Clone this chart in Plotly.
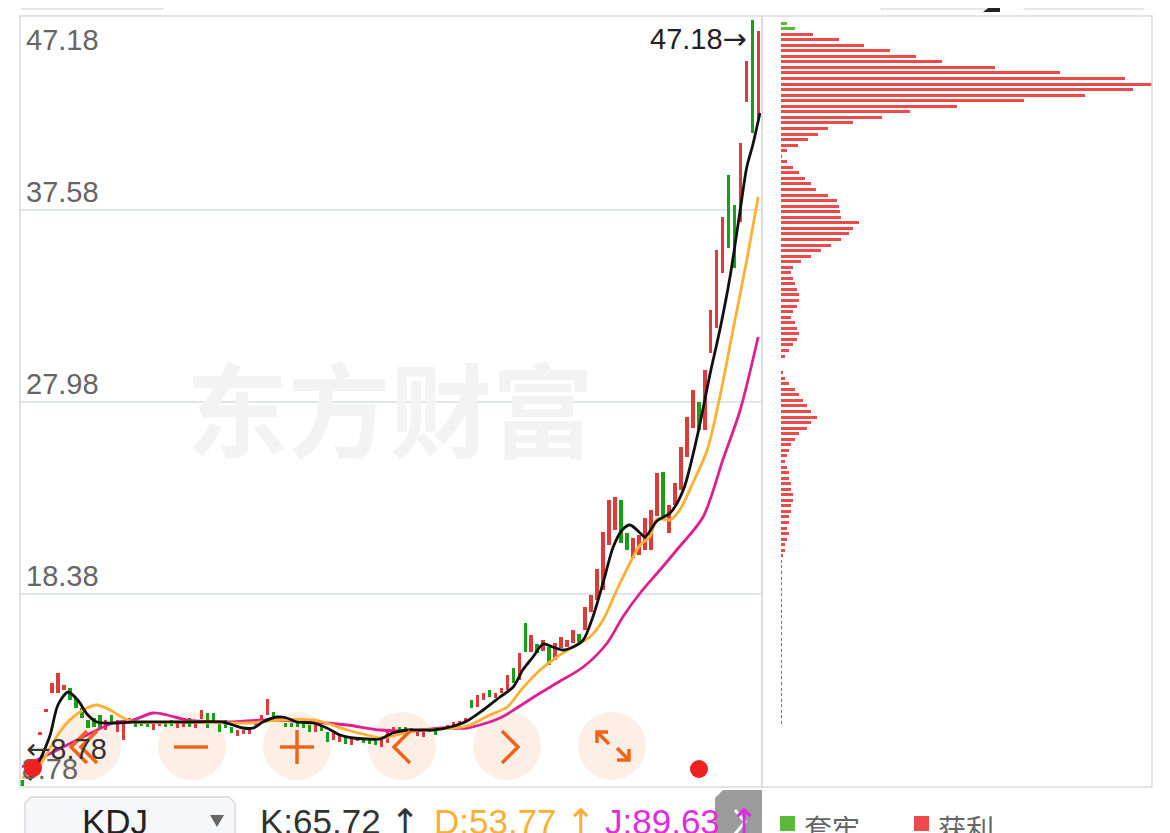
import plotly.graph_objects as go

# page has an 8px body margin, so the figure is drawn 8px smaller and offset
OFF = 8
W, H = 1170 - OFF, 833 - OFF

# ---------------- data ----------------
opens = [9.08, 9.13, 9.68, 11.33, 12.48, 13.43, 13.43, 13.58, 13.68, 13.18,
         12.68, 12.08, 12.18, 12.33, 11.58, 12.33, 11.48, 11.08, 11.98, 11.98,
         11.93, 11.98, 11.58, 11.78, 11.98, 12.08, 11.68, 11.73, 12.18, 11.68,
         12.13, 12.43, 12.43, 11.93, 12.08, 11.73, 11.28, 11.38, 11.38, 11.83,
         11.93, 12.33, 12.48, 12.08, 11.93, 11.93, 12.08, 11.93, 11.83, 11.48,
         11.78, 11.48, 11.08, 10.98, 11.23, 10.83, 11.03, 11.18, 11.13, 11.08,
         10.73, 10.93, 11.43, 11.73, 11.73, 11.43, 11.28, 11.23, 11.68, 11.58,
         11.58, 11.63, 11.83, 11.88, 11.98, 13.08, 12.73, 13.08, 13.58, 13.18,
         13.43, 13.58, 14.68, 14.08, 16.93, 15.48, 15.88, 15.53, 15.73, 15.08,
         15.68, 15.73, 15.93, 16.38, 16.58, 17.48, 18.08, 18.58, 20.83, 21.58,
         23.08, 21.43, 20.18, 20.33, 20.58, 20.58, 22.28, 24.48, 21.43, 22.83,
         23.58, 25.23, 26.68, 27.98, 26.58, 30.43, 31.68, 34.43, 39.33, 37.83,
         36.98, 42.98, 47.08, 42.08]
closes = [8.78, 9.33, 10.08, 11.48, 12.63, 13.93, 14.43, 13.83, 13.08, 12.68,
          12.18, 11.68, 11.73, 11.68, 12.08, 11.93, 12.08, 11.98, 12.18, 11.73,
          11.78, 11.73, 11.98, 11.98, 11.73, 11.78, 11.98, 11.98, 11.73, 11.98,
          12.58, 11.68, 12.03, 11.48, 11.68, 11.43, 11.58, 11.58, 11.73, 12.08,
          12.33, 13.13, 12.13, 12.23, 11.73, 11.73, 11.73, 11.68, 11.48, 11.83,
          11.53, 10.98, 11.43, 11.33, 10.88, 11.18, 11.23, 10.93, 10.88, 10.83,
          11.08, 11.48, 11.73, 11.48, 11.53, 11.68, 11.48, 11.48, 11.48, 11.33,
          11.73, 11.83, 11.98, 12.03, 12.18, 12.68, 13.33, 13.43, 13.23, 13.43,
          13.68, 14.33, 13.93, 15.43, 15.48, 16.33, 15.43, 16.08, 14.83, 15.93,
          16.23, 16.08, 16.58, 15.98, 17.73, 18.33, 19.63, 21.48, 23.08, 23.23,
          20.93, 20.58, 21.18, 21.33, 22.18, 22.58, 24.43, 22.28, 22.83, 23.93,
          25.73, 27.23, 28.58, 26.58, 29.58, 32.58, 35.58, 37.23, 35.68, 34.68,
          40.93, 45.03, 41.43, 46.53]
max_high = 47.18
min_low = 8.78
y_ticks = [47.18, 37.58, 27.98, 18.38, 8.78]

# moving-average lines, points (candle index, price)
ma5_x = [1.3, 3, 4.7, 6, 7.7, 9.3, 11, 12.5, 15.9, 18.5, 27.5, 33.6, 35.2, 36.9, 38.6,
         40.2, 42.6, 44.2, 45.9, 48.6, 50.9, 53.1, 55.3, 57.6, 59.8, 61.9, 64.3, 68.6,
         71.5, 74.3, 77, 79.8, 82, 83.6, 85.3, 87, 88.6, 90.3, 92, 93.7, 95.3, 97, 98.7,
         100.2, 101.5, 103.2, 104, 106, 108.2, 110.4, 112.7, 114.9, 116.5, 118.2, 119.9,
         121, 122, 123.2]
ma5_y = [9.08, 10.08, 11.33, 12.83, 13.48, 13.08, 12.33, 11.98, 11.93, 11.98, 11.98, 11.98,
         11.83, 11.68, 11.68, 11.98, 12.23, 12.18, 11.98, 11.93, 11.68, 11.33, 11.18, 11.13,
         11.13, 11.43, 11.58, 11.58, 11.73, 12.03, 12.58, 13.23, 13.73, 14.58, 15.23, 15.88,
         15.73, 15.58, 15.73, 16.08, 17.23, 18.93, 20.73, 21.58, 21.83, 21.43, 21.23, 22.03,
         22.43, 23.58, 26.23, 29.43, 31.58, 34.23, 37.58, 39.73, 40.83, 42.43]
ma10_x = [0, 1.3, 3, 4.7, 6.3, 8, 10.2, 12.5, 14.7, 16.9, 18.9, 27.5, 37.6, 43.1, 48.6, 50.3,
          54.3, 57.6, 59.8, 61.9, 65.3, 69.8, 74.3, 78.1, 81, 83.6, 86.5, 89.3, 92, 94.8, 97,
          99.3, 101.5, 103.2, 104.8, 106, 108.2, 109.8, 112, 114.4, 116.5, 118.7, 121, 122.9]
ma10_y = [9.18, 9.38, 9.83, 10.68, 11.48, 12.08, 12.58, 12.83, 12.58, 12.18, 11.98, 11.98,
          11.93, 12.08, 12.08, 11.98, 11.58, 11.33, 11.18, 11.28, 11.53, 11.63, 11.78, 12.33,
          12.73, 13.68, 14.58, 15.23, 15.73, 16.23, 17.08, 18.58, 19.93, 20.83, 21.23, 22.13,
          22.08, 22.58, 23.93, 25.58, 28.23, 31.58, 35.08, 38.23]
ma20_x = [0, 4.2, 10.2, 15.2, 18.5, 21.9, 24.2, 27.5, 34.7, 40.2, 48.6, 54.3, 59.8, 65.3,
          69.8, 74.3, 79.8, 82.6, 86.5, 89.3, 93.7, 97.7, 100.3, 103.2, 106.5, 109.3, 113.7,
          117, 119.9, 122.9]
ma20_y = [9.73, 10.33, 11.23, 11.93, 12.08, 12.43, 12.33, 12.08, 11.98, 12.08, 11.98, 11.83,
          11.58, 11.53, 11.68, 11.68, 12.18, 12.68, 13.43, 13.93, 14.73, 15.93, 17.23, 18.43,
          19.58, 20.58, 22.23, 25.08, 27.58, 31.23]

# chip distribution (price level, amount) - top two levels are "套牢"
chip_top = 46.93
chip_step = 0.2775
chip_green = [6, 14]
chip_red = [32, 58, 83, 109, 135, 161, 214, 279, 344, 372, 352, 304, 243, 176, 129, 101,
            72, 47, 37, 27, 17, 6, 1, 6, 12, 18, 24, 30, 35, 47, 56, 58, 59, 60, 78, 72,
            68, 60, 50, 40, 30, 20, 12, 10, 12, 14, 16, 18, 18, 16, 12, 10, 14, 16, 18, 16,
            12, 8, 4, 0, 0, 2, 4, 8, 14, 18, 22, 26, 30, 36, 30, 26, 18, 14, 10, 8, 6, 4,
            6, 8, 8, 10, 10, 12, 12, 10, 10, 8, 8, 6, 8, 6, 4, 4, 2, 1, 1, 1, 1, 1, 1, 1,
            1, 1, 1, 1, 1, 1, 1, 0.6, 0.6, 0.6, 0.6, 0.6, 0.6, 0.6, 0.6, 0.6, 0.6, 0.6,
            0.6, 0.6, 0.6, 0.6, 0.6]

kdj_labels = ["K:65.72", "D:53.77", "J:89.63"]
legend_text = ["套牢", "获利"]

# ---------------- colours ----------------
RED = "#df3a3a"
GREEN = "#17a117"
CHIP_RED = "#ee4a4a"
CHIP_GREEN = "#5cb83c"
ORANGE_BTN = "#f06418"
ARROW = "<span style='font-family:DejaVu Sans'>{}</span>"

# ---------------- figure ----------------
fig = go.Figure()

n = len(opens)
idx = list(range(n))
up = [c >= o for o, c in zip(opens, closes)]
for flag, col in ((True, RED), (False, GREEN)):
    xs = [i for i in idx if up[i] == flag]
    base = [min(opens[i], closes[i]) for i in xs]
    hgt = [max(abs(closes[i] - opens[i]), 0.08) for i in xs]
    fig.add_trace(go.Bar(x=xs, y=hgt, base=base, width=0.55, marker_color=col,
                         marker_line_width=0, xaxis="x", yaxis="y", hoverinfo="skip"))

for xs, ys, col in ((ma20_x, ma20_y, "#e01f8f"), (ma10_x, ma10_y, "#ffb030"),
                    (ma5_x, ma5_y, "#111111")):
    fig.add_trace(go.Scatter(x=xs, y=ys, mode="lines",
                             line=dict(color=col, width=2.8, shape="spline", smoothing=0.8),
                             xaxis="x", yaxis="y", hoverinfo="skip"))

# lowest y tick label drawn as a trace so the red dot (a shape) can sit on top of it
fig.add_trace(go.Scatter(x=[-0.05], y=[y_ticks[-1]], mode="text", text=[f"{y_ticks[-1]:.2f}"],
                         textposition="top right", textfont=dict(size=29, color="#666666"),
                         xaxis="x", yaxis="y", hoverinfo="skip"))

levels_g = [chip_top - chip_step * k for k in range(len(chip_green))]
levels_r = [chip_top - chip_step * (k + len(chip_green)) for k in range(len(chip_red))]
fig.add_trace(go.Bar(y=levels_g, x=chip_green, orientation="h", width=0.15,
                     marker_color=CHIP_GREEN, marker_line_width=0, xaxis="x2", yaxis="y2"))
fig.add_trace(go.Bar(y=levels_r, x=chip_red, orientation="h", width=0.15,
                     marker_color=CHIP_RED, marker_line_width=0, xaxis="x2", yaxis="y2"))


def PX(x):
    return (x - OFF) / W


def PY(y):
    return 1 - (y - OFF) / H


def path(pts, closed=False):
    s = ""
    for k, (x, y) in enumerate(pts):
        s += ("M" if k == 0 else "L") + f"{PX(x):.5f},{PY(y):.5f} "
    return s + ("Z" if closed else "")


# axes pixel geometry (reference pixels)
main_l, main_r, top, bot = 20, 762, 16, 787
chip_r = 1152
x_lo = -0.33
x_hi = 123.54
y_lo, y_hi = 8.73, 47.28

fig.update_layout(
    width=W, height=H, margin=dict(l=0, r=0, t=0, b=0),
    paper_bgcolor="white", plot_bgcolor="rgba(0,0,0,0)",
    showlegend=False, barmode="overlay", bargap=0,
    xaxis=dict(domain=[PX(main_l), PX(main_r)], range=[x_lo, x_hi], visible=False, fixedrange=True),
    yaxis=dict(domain=[PY(bot), PY(top)], range=[y_lo, y_hi], showticklabels=False,
               tickvals=y_ticks[1:4], showgrid=True, gridcolor="#e2e4ec", gridwidth=2,
               zeroline=False, showline=False, ticks=""),
    xaxis2=dict(domain=[PX(main_r), PX(chip_r)], range=[-19, chip_r - 781], visible=False),
    yaxis2=dict(domain=[PY(bot), PY(top)], range=[y_lo, y_hi], visible=False, anchor="x2"),
    font=dict(family="Liberation Sans, Arial, sans-serif"),
)

shapes = []
anns = []

# nav button circles (behind traces)
for cx in (87, 192, 297, 402, 507, 612):
    shapes.append(dict(type="circle", xref="paper", yref="paper", layer="below",
                       x0=PX(cx - 34), x1=PX(cx + 34), y0=PY(746 + 34), y1=PY(746 - 34),
                       fillcolor="#fdeee6", line_width=0))

# watermark
anns.append(dict(text="东方财富", xref="paper", yref="paper", x=PX(390), y=PY(405),
                 xanchor="center", yanchor="middle", showarrow=False,
                 font=dict(family="Noto Sans CJK SC", size=102, color="#f3f3f3", weight="bold")))

# frames
shapes.append(dict(type="rect", xref="paper", yref="paper", x0=PX(main_l), x1=PX(main_r),
                   y0=PY(bot), y1=PY(top), line=dict(color="#d9dae0", width=1.5)))
shapes.append(dict(type="rect", xref="paper", yref="paper", x0=PX(main_r), x1=PX(chip_r),
                   y0=PY(bot), y1=PY(top), line=dict(color="#d9dae0", width=1.5)))

# y tick labels (the lowest one is the text trace above)
for v in y_ticks[:-1]:
    if v == y_ticks[0]:
        anc, sh = "top", -4
    else:
        anc, sh = "bottom", 0
    anns.append(dict(text=f"{v:.2f}", xref="paper", yref="y", x=PX(24), y=v, xanchor="left",
                     yanchor=anc, yshift=sh, showarrow=False, font=dict(size=29, color="#666666")))

# max / min markers
anns.append(dict(text=f"{max_high:.2f}" + ARROW.format("→"), xref="x", yref="y", x=121.3, y=max_high,
                 xanchor="right", yanchor="top", yshift=-2, showarrow=False,
                 font=dict(size=29, color="#222222")))
anns.append(dict(text=ARROW.format("←") + f"{min_low:.2f}", xref="x", yref="y", x=0.3, y=min_low,
                 xanchor="left", yanchor="bottom", yshift=18, showarrow=False,
                 font=dict(size=29, color="#333333")))

# glyphs on the nav buttons
g = dict(color=ORANGE_BTN, width=3.5)
glyphs = [
    [(87, 731), (71, 747), (87, 763)], [(97, 731), (81, 747), (97, 763)],
    [(174, 747), (208, 747)],
    [(280, 747), (314, 747)], [(297, 730), (297, 764)],
    [(410, 731), (394, 747), (410, 763)],
    [(502, 731), (518, 747), (502, 763)],
    [(608, 732), (597, 732), (597, 743)], [(597, 732), (609, 744)],
    [(617, 760), (629, 760), (629, 749)], [(629, 760), (617, 748)],
]
for pts in glyphs:
    shapes.append(dict(type="path", xref="paper", yref="paper", path=path(pts), line=g))

# red dots
for cx, cy in ((33, 768), (699, 769)):
    shapes.append(dict(type="circle", xref="paper", yref="paper", x0=PX(cx - 9), x1=PX(cx + 9),
                       y0=PY(cy + 9), y1=PY(cy - 9), fillcolor="#ee2020", line_width=0))

# top partially visible controls
for x0, x1 in ((18, 167), (877, 1001), (1020, 1148)):
    shapes.append(dict(type="path", xref="paper", yref="paper",
                       path=path([(x0, -20), (x0, 4), (x0 + 5, 9), (x1 - 5, 9), (x1, 4), (x1, -20)], True),
                       fillcolor="#f5f6f8", line=dict(color="#d3d3d6", width=1.2)))
shapes.append(dict(type="path", xref="paper", yref="paper",
                   path=path([(1000, -1), (1000, 12), (983, 12)], True), fillcolor="#222222", line_width=0))
for xx, col in ((377, "#222222"), (580, "#ffb030"), (805, "#e01f8f")):
    shapes.append(dict(type="line", xref="paper", yref="paper", x0=PX(xx), x1=PX(xx),
                       y0=PY(-2), y1=PY(6), line=dict(color=col, width=2)))

# bottom bar: KDJ selector
shapes.append(dict(type="path", xref="paper", yref="paper",
                   path=path([(25, 850), (25, 803), (31, 797), (229, 797), (235, 803), (235, 850)], True),
                   fillcolor="#f6f7f9", line=dict(color="#d6d6da", width=1.3)))
anns.append(dict(text="KDJ", xref="paper", yref="paper", x=PX(115), y=PY(800), xanchor="center",
                 yanchor="top", showarrow=False, font=dict(size=35, color="#222222")))
shapes.append(dict(type="path", xref="paper", yref="paper",
                   path=path([(210, 815), (224, 815), (217, 827)], True), fillcolor="#666666", line_width=0))

for txt, x0, col in zip(kdj_labels, (258, 432, 603), ("#333333", "#fbb035", "#dd2ddd")):
    anns.append(dict(text=txt + " " + ARROW.format("↑"), xref="paper", yref="paper", x=PX(x0),
                     y=PY(800), xanchor="left", yanchor="top", showarrow=False,
                     font=dict(size=35, color=col)))

shapes.append(dict(type="path", xref="paper", yref="paper",
                   path=path([(715, 840), (715, 798), (723, 790), (762, 790), (762, 840)], True),
                   fillcolor="#9b9b9b", line_width=0))
shapes.append(dict(type="path", xref="paper", yref="paper",
                   path=path([(735, 810), (745, 822), (735, 834)]), line=dict(color="white", width=3)))

# legend of chip panel
for (x0, col), txt in zip(((780, CHIP_GREEN), (914, CHIP_RED)), legend_text):
    shapes.append(dict(type="rect", xref="paper", yref="paper", x0=PX(x0), x1=PX(x0 + 15),
                       y0=PY(831), y1=PY(816), fillcolor=col, line_width=0))
    anns.append(dict(text=txt, xref="paper", yref="paper", x=PX(x0 + 22), y=PY(806), xanchor="left",
                     yanchor="top", showarrow=False,
                     font=dict(family="Noto Sans CJK SC", size=28, color="#666666")))

fig.update_layout(shapes=shapes, annotations=anns)
fig.write_html("out.html")
